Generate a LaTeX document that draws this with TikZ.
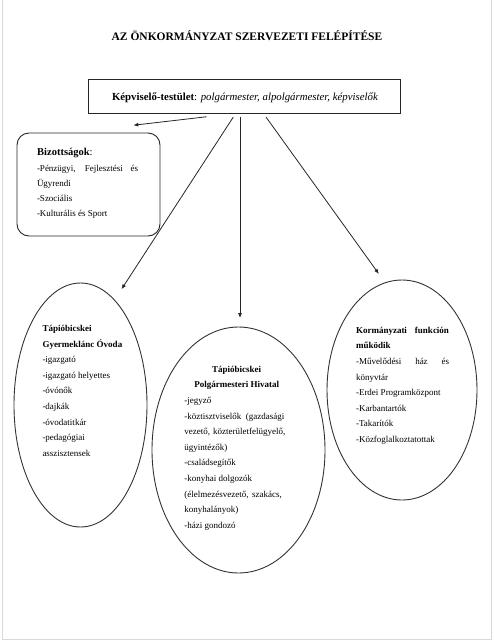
\documentclass[tikz,border=0pt]{standalone}
\usepackage{fontspec}
\setmainfont{Liberation Serif}
\usetikzlibrary{arrows.meta,shapes.geometric,calc}
\tikzset{
  tb/.style={anchor=north west, inner sep=0pt, outer sep=0pt, align=left, font=\fontsize{9pt}{15.6pt}\selectfont},
  shape line/.style={draw=black!80, line width=0.9pt},
  ellnode/.style={ellipse, shape line, inner sep=0pt},
  arr/.style={draw=black!85, line width=0.8pt, -{Latex[length=5pt,width=4pt]}},
}
\begin{document}
\begin{tikzpicture}[x=1pt,y=-1pt]
\useasboundingbox (0,0) rectangle (494,642);
% page frame
\draw[gray!30, line width=1.2pt] (2.5,-2) -- (2.5,639.5) -- (491.5,639.5) -- (491.5,-2);

% title
\node[anchor=base, inner sep=0pt, font=\fontsize{11.5pt}{13pt}\selectfont\bfseries] (title) at (247,41) {AZ ÖNKORMÁNYZAT SZERVEZETI FELÉPÍTÉSE};

% top box
\node[draw=black!85, line width=0.9pt, minimum width=312pt, minimum height=34pt, inner sep=0pt] (kt) at (244,96) {};
\node[anchor=base, inner sep=0pt, font=\fontsize{10.8pt}{12pt}\selectfont] (ktt) at (245,100) {\textbf{Képviselő-testület}: \textit{polgármester, alpolgármester, képviselők}};

% Bizottsagok box
\node[draw=black!85, line width=0.9pt, rounded corners=12pt, minimum width=143pt, minimum height=103pt, inner sep=0pt] (bz) at (88.5,184.5) {};
\node[anchor=base west, inner sep=0pt, font=\fontsize{10.5pt}{12pt}\selectfont] (bzh) at (37,155) {\textbf{Bizottságok}:};
\node[tb, font=\fontsize{9pt}{15.3pt}\selectfont] (bzl) at (37,160.3) {\strut\makebox[101pt][s]{-Pénzügyi, Fejlesztési és}\\Ügyrendi\\-Szociális\\-Kulturális és Sport};

% ellipses
\node[ellnode, minimum width=133pt, minimum height=244pt] (ov) at (80.5,405) {};
\node[ellnode, minimum width=173pt, minimum height=246pt] (md) at (238.5,450) {};
\node[ellnode, minimum width=150pt, minimum height=220pt] (ke) at (402,390) {};

% left ellipse text
\node[tb] (ovt) at (42.5,320.6) {\strut\textbf{Tápióbicskei}\\\textbf{Gyermeklánc Óvoda}\\-igazgató\\-igazgató helyettes\\-óvónők\\-dajkák\\-óvodatitkár\\-pedagógiai\\asszisztensek};

% middle ellipse text
\node[tb, anchor=north, align=center] (mdh) at (236.7,361.4) {\strut\textbf{Tápióbicskei}\\\textbf{Polgármesteri Hivatal}};
\node[tb] (mdt) at (184.3,392.6) {\strut-jegyző\\\makebox[100pt][s]{-köztisztviselők (gazdasági}\\\makebox[101pt][s]{vezető, közterületfelügyelő,}\\ügyintézők)\\-családsegítők\\-konyhai dolgozók\\\makebox[97.5pt][s]{(élelmezésvezető, szakács,}\\konyhalányok)\\-házi gondozó};

% right ellipse text
\node[tb] (ket) at (356,322.4) {\strut\makebox[93pt][s]{\textbf{Kormányzati funkción}}\\\textbf{működik}\\\makebox[93pt][s]{-Művelődési ház és}\\könyvtár\\-Erdei Programközpont\\-Karbantartók\\-Takarítók\\-Közfoglalkoztatottak};

% connector start points
\coordinate (s1) at ([xshift=-37.3pt,yshift=-3.3pt]kt.south);
\coordinate (s2) at ([xshift=-10.7pt,yshift=-3.6pt]kt.south);
\coordinate (s3) at ([xshift=-4pt,yshift=-3.6pt]kt.south);
\coordinate (s4) at ([xshift=22pt,yshift=-3.6pt]kt.south);

\draw[arr] (s1) -- ([xshift=44.8pt,yshift=7.3pt]bz.north);
\draw[arr, shorten >=12.5pt] (s2) -- (ov.72);
\draw[arr, shorten >=8.5pt] (s3) -- (s3 |- md.north);
\draw[arr, shorten >=10.4pt] (s4) -- (ke.99);
\end{tikzpicture}
\end{document}
